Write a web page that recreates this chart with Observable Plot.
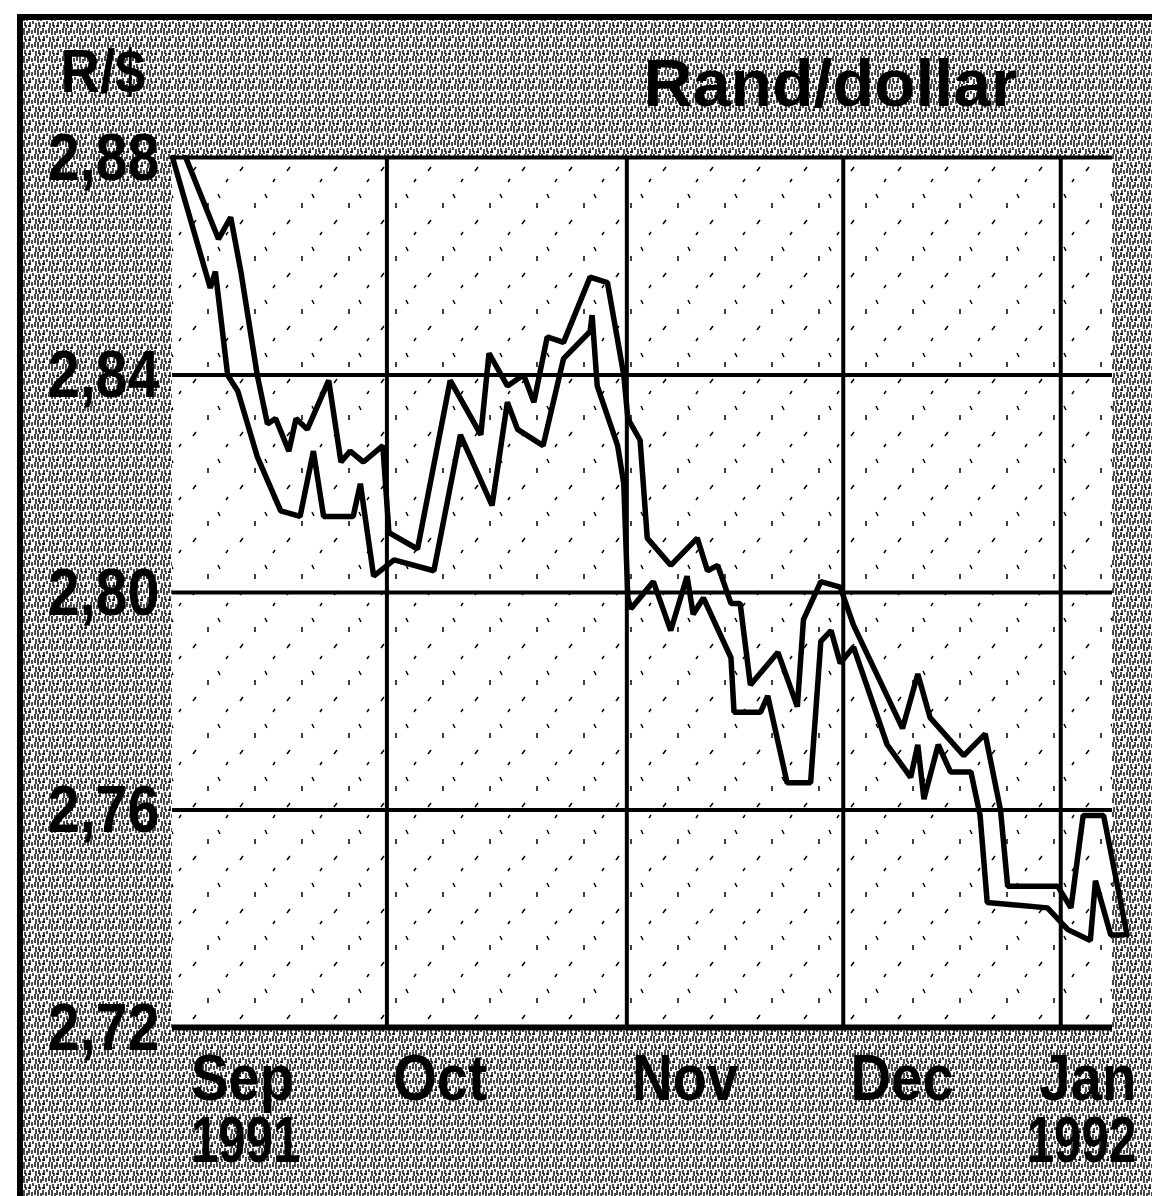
<!DOCTYPE html>
<html><head><meta charset="utf-8">
<script src="https://cdn.jsdelivr.net/npm/d3@7"></script>
<script src="https://cdn.jsdelivr.net/npm/@observablehq/plot@0.6"></script>
<style>body{margin:0;background:#fff}#chart svg{display:block}</style>
</head><body><div id="chart"></div>
<script>
// trading-day index (0 = 1 Sep 1991)
const monthStarts = [0, 21, 44.5, 65.7, 87];
const monthLabels = ["Sep", "Oct", "Nov", "Dec", "Jan"];
const monthYears = ["1991", "", "", "", "1992"];
const yTicks = [2.72, 2.76, 2.80, 2.84, 2.88];
const yTickLabels = ["2,72", "2,76", "2,80", "2,84", "2,88"];

// upper (right-hand) line
const lineA_day = [1.3, 4.5, 5.7, 6.7, 8.3, 9.3, 10.1, 11.4, 12.1, 13.2, 15.3, 16.5, 17.4, 18.7, 20.6, 21.2, 24.0, 27.2, 30.2, 31.0, 32.8, 34.4, 35.4, 36.7, 38.3, 40.9, 42.6, 44.2, 44.6, 45.8, 46.5, 48.8, 51.4, 52.4, 53.4, 54.7, 55.6, 56.6, 59.3, 61.2, 61.8, 63.5, 65.4, 66.7, 71.5, 73.0, 74.2, 77.5, 79.6, 81.1, 81.8, 86.7, 88.0, 89.2, 91.2, 93.5];
const lineA_rate = [2.880, 2.865, 2.869, 2.859, 2.840, 2.831, 2.832, 2.826, 2.832, 2.830, 2.839, 2.824, 2.826, 2.824, 2.827, 2.811, 2.808, 2.839, 2.829, 2.844, 2.838, 2.840, 2.835, 2.847, 2.846, 2.858, 2.857, 2.840, 2.832, 2.828, 2.810, 2.805, 2.810, 2.804, 2.805, 2.798, 2.798, 2.783, 2.789, 2.779, 2.795, 2.802, 2.801, 2.794, 2.775, 2.785, 2.777, 2.770, 2.774, 2.760, 2.746, 2.746, 2.742, 2.759, 2.759, 2.737];

// lower (left-hand) line
const lineB_day = [0, 3.7, 4.2, 5.4, 6.4, 8.3, 10.6, 12.5, 13.8, 14.8, 17.7, 18.4, 19.7, 21.7, 25.6, 28.2, 31.3, 32.8, 33.8, 36.3, 38.3, 40.9, 41.1, 41.6, 43.6, 44.2, 44.6, 44.9, 47.1, 48.8, 50.4, 51.0, 52.0, 54.7, 55.0, 57.6, 58.3, 60.2, 62.5, 63.5, 64.5, 65.4, 66.7, 70.0, 72.3, 73.0, 73.6, 75.0, 76.2, 78.2, 79.1, 79.8, 85.7, 87.7, 89.9, 90.4, 91.9, 93.1];
const lineB_rate = [2.880, 2.856, 2.859, 2.840, 2.837, 2.825, 2.815, 2.814, 2.826, 2.814, 2.814, 2.820, 2.803, 2.806, 2.804, 2.829, 2.816, 2.835, 2.830, 2.827, 2.843, 2.848, 2.851, 2.838, 2.827, 2.820, 2.799, 2.797, 2.802, 2.793, 2.803, 2.796, 2.799, 2.788, 2.778, 2.778, 2.781, 2.765, 2.765, 2.791, 2.793, 2.787, 2.790, 2.772, 2.766, 2.772, 2.762, 2.772, 2.767, 2.767, 2.759, 2.743, 2.742, 2.738, 2.736, 2.747, 2.737, 2.737];

const A = lineA_day.map((d, i) => ({day: d, rate: lineA_rate[i]}));
const B = lineB_day.map((d, i) => ({day: d, rate: lineB_rate[i]}));
const monthText = monthLabels.map((m, i) => monthYears[i] ? `${m}\n${monthYears[i]}` : m);

const W = 1152, H = 1196;
const mL = 172, mR = 40, mT = 157, mB = 169;
const FONT = "'Liberation Sans', Arial, sans-serif";
const T = {fontWeight: "bold", fontFamily: FONT, fill: "black", lineAnchor: "middle"};
const M = {...T, text: d => d, frameAnchor: "bottom", lineAnchor: "top", lineHeight: 0.97, dy: 28, fontSize: 64};
// label placement (in day units): Sep–Dec start just right of their gridline, Jan/1992 right-aligned
const labelStart = [1.8, 21.6, 45, 66.4];
const labelEnd = [94.4];

const chart = Plot.plot({
  width: W, height: H,
  marginLeft: mL, marginRight: mR, marginTop: mT, marginBottom: mB,
  x: {domain: [0, 92.07], axis: null},
  y: {domain: [2.72, 2.88], axis: null},
  style: {background: "transparent", color: "black"},
  marks: [
    Plot.ruleY(yTicks.slice(1), {stroke: "black", strokeWidth: 4}),
    Plot.ruleY([yTicks[0]], {stroke: "black", strokeWidth: 6}),
    Plot.ruleX(monthStarts.slice(1), {stroke: "black", strokeWidth: 4}),
    Plot.line(A, {x: "day", y: "rate", stroke: "black", strokeWidth: 5.5, strokeLinejoin: "miter"}),
    Plot.line(B, {x: "day", y: "rate", stroke: "black", strokeWidth: 5.5, strokeLinejoin: "miter"}),
    Plot.text(yTickLabels, {...T, y: yTicks, text: d => d, frameAnchor: "left", textAnchor: "end", dx: -13, dy: 1, fontSize: 66}),
    Plot.text(monthText.slice(0, 4), {...M, x: labelStart, textAnchor: "start"}),
    Plot.text(monthText.slice(4), {...M, x: labelEnd, textAnchor: "end"}),
    Plot.text(["R/$"], {...T, text: d => d, frameAnchor: "top-left", textAnchor: "start", dx: -112, dy: -85, fontSize: 62}),
    Plot.text(["Rand/dollar"], {...T, text: d => d, frameAnchor: "top-right", textAnchor: "end", dx: -95, dy: -73, fontSize: 66})
  ]
});

// decorative halftone background (scan texture) behind the marks
const svg = d3.select(chart);
const defs = svg.insert("defs", ":first-child");
const pd = defs.append("pattern").attr("id", "dense").attr("width", 14).attr("height", 14)
  .attr("patternUnits", "userSpaceOnUse");
pd.append("rect").attr("width", 14).attr("height", 14).attr("fill", "white");
pd.append("path").attr("stroke", "black").attr("stroke-width", 1.4).attr("fill", "none")
  .attr("d", "M1 0v5M4 2v4M7 0v3M10 1v6M13 3v4M2 8v5M5 7v3M8 9v5M11 8v4M0 12h3M6 4h2M12 11v3M9 0h2");
const ps = defs.append("pattern").attr("id", "sparse").attr("width", 47).attr("height", 53)
  .attr("patternUnits", "userSpaceOnUse");
ps.append("rect").attr("width", 47).attr("height", 53).attr("fill", "white");
ps.append("path").attr("stroke", "black").attr("stroke-width", 1.5).attr("fill", "none")
  .attr("d", "M5 12l3-4M30 35l2 4M20 44v5M40 20l-2 3");
const bg = svg.insert("g", "defs + *");
bg.append("rect").attr("x", 0).attr("y", 0).attr("width", W).attr("height", H).attr("fill", "white");
bg.append("rect").attr("x", 20).attr("y", 17).attr("width", W).attr("height", H).attr("fill", "url(#dense)");
bg.append("rect").attr("x", mL).attr("y", mT).attr("width", W - mL - mR).attr("height", H - mT - mB)
  .attr("fill", "url(#sparse)");
bg.append("rect").attr("x", 20).attr("y", 17).attr("width", W + 20).attr("height", H + 20)
  .attr("fill", "none").attr("stroke", "black").attr("stroke-width", 6);

document.getElementById("chart").append(chart);

// condensed lettering like the original: narrow the glyphs of each text (and each line)
const narrow = [0.87, 0.88, 0.88, 0.88, 1.03];
const yearNarrow = 0.77;
function squeeze(el, f) {
  const len = el.getComputedTextLength();
  el.setAttribute("textLength", (len * f).toFixed(1));
  el.setAttribute("lengthAdjust", "spacingAndGlyphs");
}
svg.selectAll("g[aria-label='text']").each(function(_, gi) {
  const f = narrow[gi] ?? 1;
  d3.select(this).selectAll("text").each(function() {
    const spans = this.querySelectorAll("tspan");
    if (spans.length) spans.forEach((s, k) => squeeze(s, k === 0 ? f : yearNarrow));
    else squeeze(this, f);
  });
});
</script>
</body></html>
